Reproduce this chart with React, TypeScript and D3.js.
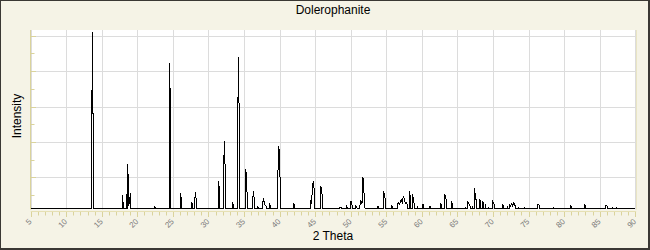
import React from "react";
import * as d3 from "d3";

const chartTitle = "Dolerophanite";
const xAxisLabel = "2 Theta";
const yAxisLabel = "Intensity";

// Peak positions (2 theta, degrees) and relative intensities
const peakTwoTheta = [
  13.53, 13.67, 13.81, 17.89, 18.03, 18.48, 18.65, 18.79, 18.88, 19.02,
  22.39, 22.53, 24.5, 24.65, 26.05, 26.19, 27.6, 27.74, 28.02, 28.16, 28.3,
  31.4, 31.54, 32.1, 32.24, 32.39, 33.37, 33.51, 34.07, 34.21, 34.35,
  35.2, 35.34, 35.48, 36.18, 36.32, 36.47, 36.89, 37.03, 37.59, 37.73,
  37.87, 38.01, 38.16, 38.58, 38.72, 39.7, 39.84, 39.98, 40.13,
  42.01, 42.15, 44.35, 44.49, 44.63, 44.77, 44.91, 45.75, 45.9, 46.04,
  48.43, 48.57, 48.71, 49.41, 49.55, 50.03, 50.17, 50.31, 50.74, 50.88,
  51.3, 51.44, 51.58, 51.72, 51.86, 52.0, 53.73, 53.87, 54.62, 54.76, 54.9,
  55.75, 55.89, 56.55, 56.69, 56.83, 56.97, 57.11, 57.25, 57.4, 57.54,
  57.68, 57.82, 57.96, 58.28, 58.42, 58.7, 58.84, 58.98, 59.41,
  60.11, 60.25, 61.09, 61.24, 62.64, 62.78, 63.2, 63.35, 63.49, 64.19, 64.33,
  66.16, 66.44, 66.58, 66.72, 66.86, 67.14, 67.42, 67.56, 67.7, 68.13, 68.27,
  68.55, 68.69, 68.97, 69.39, 69.96, 70.1, 70.24, 71.37, 71.51, 72.07,
  72.35, 72.49, 72.63, 72.78, 72.92, 73.06, 73.2, 73.62, 74.47,
  76.3, 76.44, 76.58, 78.55, 80.94, 81.08, 82.91, 83.05, 85.87, 86.01, 86.15,
  86.86, 87.4,
];
const peakIntensity = [
  1.3, 100, 30.3, 7.6, 1.9, 8.1, 25.2, 1.5, 3.8, 8.7,
  1.3, 0.8, 82.6, 59.3, 8.7, 5.3, 3.6, 2.4, 2.4, 9.3, 3.6,
  15.5, 11.0, 18.9, 38.2, 14.5, 3.6, 2.0, 31.4, 86.0, 41.1,
  22.3, 19.3, 1.3, 4.3, 9.7, 3.6, 1.1, 0.8, 2.4, 5.9,
  2.4, 1.9, 0.9, 3.0, 1.3, 5.9, 35.4, 32.6, 4.0,
  2.3, 1.3, 4.5, 2.8, 13.1, 15.5, 7.4, 12.3, 12.1, 3.2,
  0.7, 0.7, 0.7, 1.3, 0.6, 4.2, 2.0, 1.2, 1.3, 0.7,
  1.9, 4.5, 2.5, 17.6, 8.9, 3.2, 1.2, 0.9, 9.9, 7.5, 3.8,
  1.7, 1.1, 2.3, 3.4, 2.4, 3.4, 5.6, 2.8, 7.2, 5.0,
  2.8, 3.4, 2.0, 9.9, 4.7, 8.1, 3.8, 1.9, 1.3,
  2.3, 2.3, 1.3, 1.3, 2.6, 2.3, 8.4, 6.5, 3.2, 4.2, 1.6,
  1.0, 4.0, 2.8, 1.6, 1.3, 1.3, 11.4, 5.4, 5.0, 5.2, 3.2,
  4.0, 2.3, 2.3, 1.0, 4.0, 3.2, 1.8, 1.8, 1.2, 1.2,
  2.3, 1.2, 2.8, 1.5, 3.4, 2.0, 1.2, 1.0, 0.6,
  2.4, 2.4, 1.2, 0.6, 1.2, 0.7, 1.9, 1.0, 1.9, 1.7, 1.0,
  0.6, 0.6,
];

const xTickLabels = [5, 10, 15, 20, 25, 30, 35, 40, 45, 50, 55, 60, 65, 70, 75, 80, 85, 90];
const xMinorTicks = d3.range(5, 91, 1);
const yGridValues = [17.7, 37.8, 57.9, 78.0, 98.1];
const yMinorValues = [7.6, 27.8, 47.9, 68.1, 88.2];

const W = 650;
const H = 250;
const BG = "#F5F3E6";
const AXIS = "#DAD39C";
const GRID = "#DCDCDC";

export default function App() {
  const x = d3.scaleLinear().domain([5, 90]).range([30.7, 635.2]);
  const y = d3.scaleLinear().domain([0, 100]).range([208.5, 32.5]);
  const plotTop = 30;
  const plotBottom = 209.5;
  const x0 = x.range()[0];
  const x1 = x.range()[1];

  const peaks = peakTwoTheta
    .map((t, i) => ({ t, v: peakIntensity[i] }))
    .sort((a, b) => a.t - b.t);
  const pts: [number, number][] = [[5, 0]];
  peaks.forEach((p, i) => {
    const prev = peaks[i - 1];
    const next = peaks[i + 1];
    if (!prev || p.t - prev.t > 0.16) pts.push([p.t - 0.01, 0]);
    pts.push([p.t, p.v]);
    if (!next || next.t - p.t > 0.16) pts.push([p.t + 0.01, 0]);
  });
  pts.push([90, 0]);
  const line = d3
    .line<[number, number]>()
    .x((d) => x(d[0]))
    .y((d) => y(d[1]));

  const font = "'Liberation Sans', Arial, sans-serif";

  return (
    <svg
      width={W}
      height={H}
      style={{ position: "absolute", left: 0, top: 0, display: "block" }}
    >
      <rect x={0} y={0} width={W} height={H} fill="#3A3834" />
      <rect x={1} y={1} width={W - 3} height={H - 3} fill={BG} />
      <rect x={x0} y={plotTop} width={x1 - x0} height={plotBottom - plotTop} fill="#FFFFFF" />

      {/* vertical grid */}
      {xTickLabels.map((t) => (
        <line
          key={"vg" + t}
          x1={Math.round(x(t)) + 0.5}
          x2={Math.round(x(t)) + 0.5}
          y1={plotTop}
          y2={plotBottom}
          stroke={GRID}
          strokeWidth={1}
        />
      ))}
      {/* horizontal grid */}
      {yGridValues.map((v) => (
        <line
          key={"hg" + v}
          x1={x0}
          x2={x1}
          y1={Math.round(y(v)) + 0.5}
          y2={Math.round(y(v)) + 0.5}
          stroke={GRID}
          strokeWidth={1}
        />
      ))}

      {/* data */}
      <path
        d={line(pts) || ""}
        fill="none"
        stroke="#000"
        strokeWidth={1}
        shapeRendering="crispEdges"
      />

      {/* y axis */}
      <line x1={30.5} x2={30.5} y1={plotTop} y2={plotBottom} stroke={AXIS} strokeWidth={1} />
      <line x1={636.5} x2={636.5} y1={plotTop} y2={plotBottom} stroke="#E9E5C4" strokeWidth={1} />
      {yGridValues.map((v) => (
        <line
          key={"yt" + v}
          x1={30.5}
          x2={36}
          y1={Math.round(y(v)) + 0.5}
          y2={Math.round(y(v)) + 0.5}
          stroke={AXIS}
          strokeWidth={1}
        />
      ))}
      {yMinorValues.map((v) => (
        <line
          key={"ym" + v}
          x1={30.5}
          x2={34.5}
          y1={Math.round(y(v)) + 0.5}
          y2={Math.round(y(v)) + 0.5}
          stroke={AXIS}
          strokeWidth={1}
        />
      ))}

      {/* x axis */}
      <line x1={x0} x2={x1 + 1} y1={211.5} y2={211.5} stroke="#E6E0B4" strokeWidth={1} />
      {xMinorTicks.map((t) => (
        <line
          key={"xt" + t}
          x1={Math.round(x(t)) + 0.5}
          x2={Math.round(x(t)) + 0.5}
          y1={212}
          y2={t % 5 === 0 ? 217 : 215.5}
          stroke={AXIS}
          strokeWidth={1}
        />
      ))}
      {xTickLabels.map((t) => (
        <text
          key={"xl" + t}
          transform={`translate(${x(t) + 1.5},222) rotate(-45)`}
          textAnchor="end"
          fontFamily={font}
          fontSize={8}
          fill="#7A7A7A"
        >
          {t}
        </text>
      ))}

      <text x={333} y={14} textAnchor="middle" fontFamily={font} fontSize={12} fill="#000">
        {chartTitle}
      </text>
      <text x={333} y={240} textAnchor="middle" fontFamily={font} fontSize={12} fill="#000">
        {xAxisLabel}
      </text>
      <text
        transform="translate(20.5,116) rotate(-90)"
        textAnchor="middle"
        fontFamily={font}
        fontSize={12}
        fill="#000"
      >
        {yAxisLabel}
      </text>
    </svg>
  );
}
